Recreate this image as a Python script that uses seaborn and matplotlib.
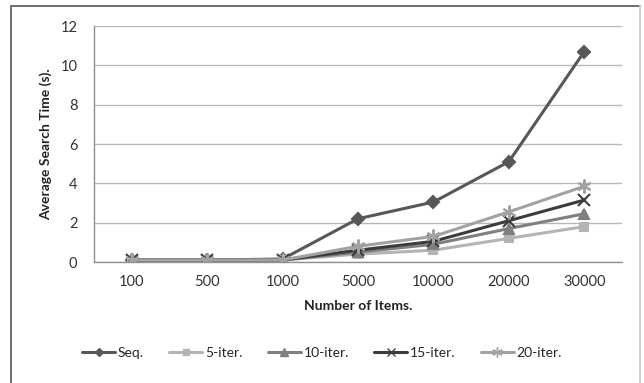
import matplotlib
matplotlib.use("Agg")
import matplotlib.pyplot as plt
from matplotlib.lines import Line2D
import seaborn as sns
import pandas as pd

# Number of items searched (categorical x axis)
items = ["100", "500", "1000", "5000", "10000", "20000", "30000"]

# Average search time in seconds for each method
seq = [0.1, 0.1, 0.15, 2.2, 3.05, 5.1, 10.7]
iter5 = [0.1, 0.1, 0.1, 0.4, 0.6, 1.2, 1.8]
iter10 = [0.1, 0.1, 0.1, 0.5, 0.9, 1.7, 2.45]
iter15 = [0.1, 0.1, 0.1, 0.6, 1.05, 2.1, 3.15]
iter20 = [0.1, 0.1, 0.1, 0.8, 1.3, 2.55, 3.85]

series_names = ["Seq.", "5-iter.", "10-iter.", "15-iter.", "20-iter."]
series_values = [seq, iter5, iter10, iter15, iter20]
colors = ["#575757", "#b4b4b4", "#7f7f7f", "#3c3c3c", "#a2a2a2"]
markers = ["D", "s", "^", "x", (6, 2, 0)]
msizes = [6, 6, 7, 8, 10]

sns.set_style("white")
plt.rcParams["font.family"] = ["Lato", "DejaVu Sans"]

rows = []
for name, vals in zip(series_names, series_values):
    for i, (lab, v) in enumerate(zip(items, vals)):
        rows.append({"pos": i, "items": lab, "time": v, "method": name})
df = pd.DataFrame(rows)

fig = plt.figure(figsize=(6.44, 3.83), dpi=100)
ax = fig.add_axes([94 / 644, 1 - 262 / 383, (622 - 94) / 644, (262 - 26) / 383])

# Chart frame: darker top/left edges, light right edge
x0, x1, ytop = 11 / 644, 640 / 644, 1 - 6 / 383
fig.add_artist(Line2D([x0, x1], [ytop, ytop], transform=fig.transFigure,
                      color="#6e6e6e", linewidth=1.4))
fig.add_artist(Line2D([x0, x0], [0, ytop], transform=fig.transFigure,
                      color="#6e6e6e", linewidth=1.4))
fig.add_artist(Line2D([x1, x1], [0, ytop], transform=fig.transFigure,
                      color="#d0d0d0", linewidth=1.4))

for name, col, mk, ms in zip(series_names, colors, markers, msizes):
    sub = df[df["method"] == name]
    sns.lineplot(data=sub, x="pos", y="time", ax=ax, color=col, marker=mk,
                 markersize=ms, markeredgecolor=col, markeredgewidth=1.5,
                 linewidth=2.2, label=name, legend=False)

ax.set_xlim(-0.5, len(items) - 0.5)
ax.set_ylim(0, 12)
ax.set_yticks(range(0, 13, 2))
ax.yaxis.grid(True, color="#b8b8b8", linewidth=1)
ax.set_axisbelow(True)

ax.set_xticks(range(len(items)))
ax.set_xticklabels(items)
ax.set_xticks([i + 0.5 for i in range(-1, len(items))], minor=True)
ax.tick_params(axis="x", which="major", length=0, pad=9, labelsize=10.5, colors="#333333")
ax.tick_params(axis="x", which="minor", length=5, color="#909090", direction="out")
ax.tick_params(axis="y", length=6, color="#909090", direction="out", pad=6,
               labelsize=10.5, colors="#333333")

for s in ["top", "right"]:
    ax.spines[s].set_visible(False)
for s in ["left", "bottom"]:
    ax.spines[s].set_color("#909090")
    ax.spines[s].set_linewidth(1)

ax.set_xlabel("Number of Items.", fontsize=10, fontweight="bold", labelpad=8, color="#222222")
ax.set_ylabel("Average Search Time (s).", fontsize=10, fontweight="bold", labelpad=6, color="#222222")

handles = [Line2D([0], [0], color=c, marker=m, markersize=s * 0.75, markeredgecolor=c,
                  linewidth=2.2) for c, m, s in zip(colors, markers, msizes)]
fig.legend(handles, series_names, loc="center", bbox_to_anchor=(0.5, 1 - 353 / 383),
           ncol=5, frameon=False, fontsize=10, handlelength=2.4, handletextpad=0.2,
           columnspacing=1.8)

fig.savefig("out.png", dpi=100)
